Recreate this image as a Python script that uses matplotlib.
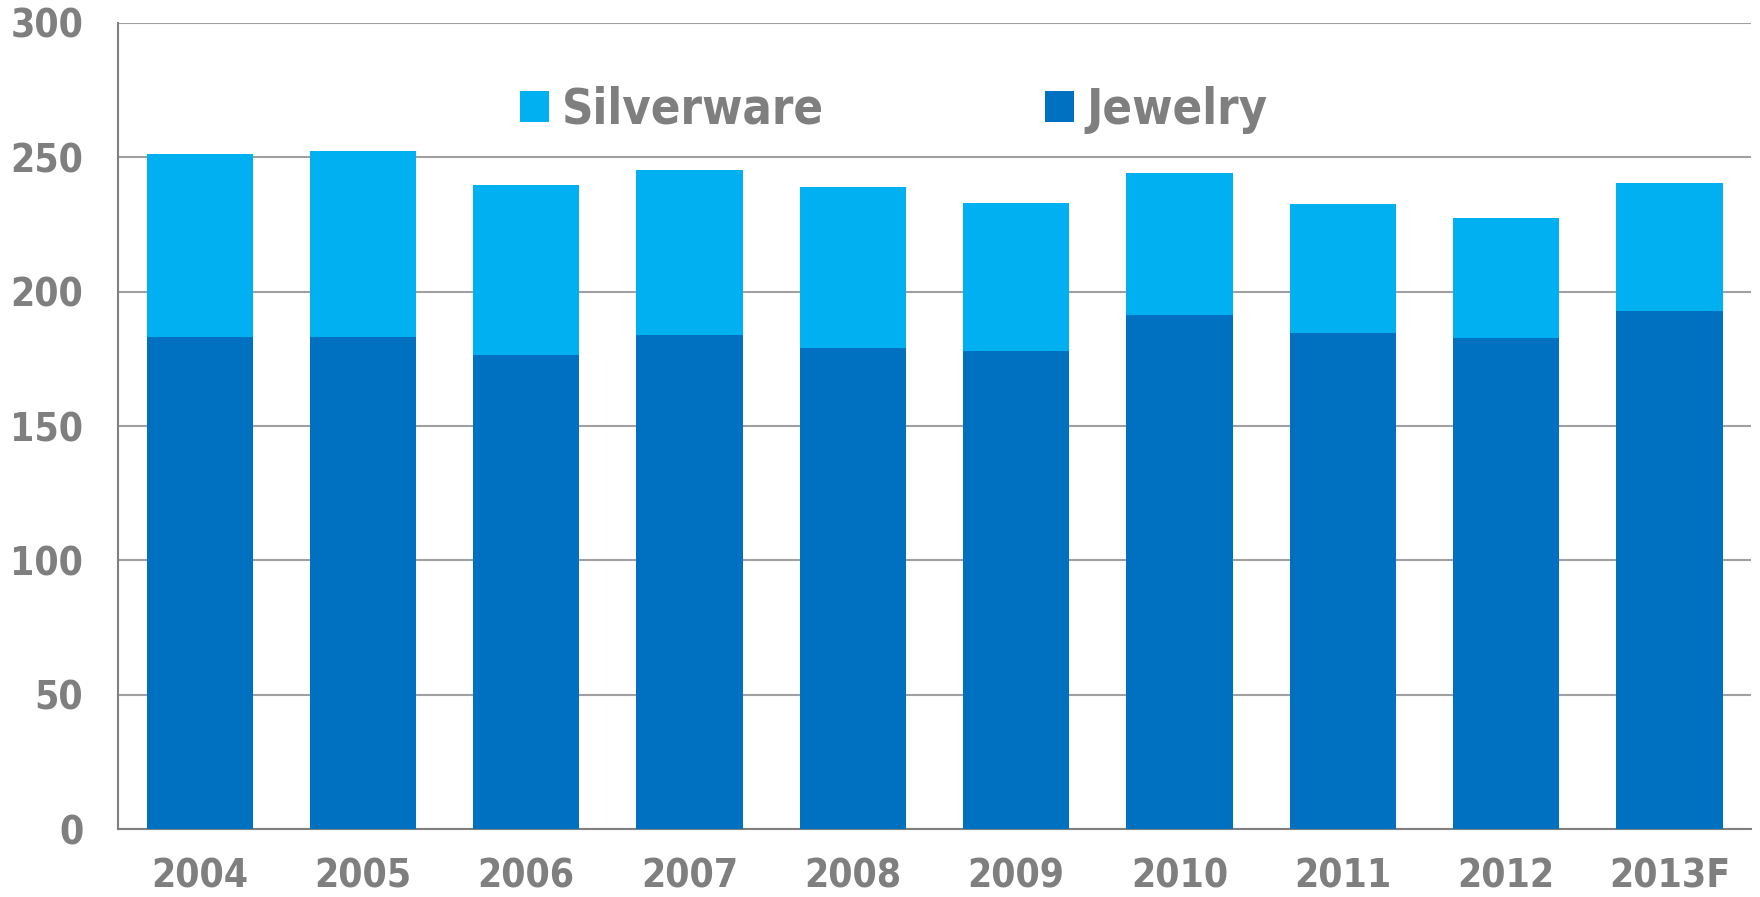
import matplotlib
matplotlib.use("Agg")
import matplotlib.pyplot as plt
from matplotlib.patches import Patch

years = ["2004", "2005", "2006", "2007", "2008", "2009", "2010", "2011", "2012", "2013F"]
jewelry = [183.1, 183.1, 176.3, 183.8, 179.0, 178.0, 191.5, 184.6, 182.7, 192.8]
silverware_total = [251.4, 252.5, 239.8, 245.3, 238.9, 233.1, 244.2, 232.8, 227.5, 240.5]
silverware = [t - j for t, j in zip(silverware_total, jewelry)]
y_ticks = [0, 50, 100, 150, 200, 250, 300]

COL_SILVER = "#00B0F0"
COL_JEWEL = "#0070C0"
TEXT = "#7F7F7F"
GRID = "#A0A0A0"

plt.rcParams["font.family"] = ["DejaVu Sans"]
fig = plt.figure(figsize=(17.6, 8.97), dpi=100)
ax = fig.add_axes([0.067, 0.0755, 0.928, 0.899])

x = range(len(years))
w = 0.65
ax.bar(x, jewelry, width=w, color=COL_JEWEL, zorder=3)
ax.bar(x, silverware, width=w, bottom=jewelry, color=COL_SILVER, zorder=3)

ax.set_xlim(-0.5, len(years) - 0.5)
ax.set_ylim(0, 300)
ax.set_yticks(y_ticks)
ax.set_xticks(list(x))
ax.set_xticklabels(years)
ax.yaxis.grid(True, color=GRID, linewidth=1.5, zorder=0)
ax.set_axisbelow(True)

for s in ["top", "right"]:
    ax.spines[s].set_visible(False)
for s in ["left", "bottom"]:
    ax.spines[s].set_color("#808080")
    ax.spines[s].set_linewidth(1.5)

ax.tick_params(axis="both", length=0, colors=TEXT)
ax.tick_params(axis="y", pad=25)
ax.tick_params(axis="x", pad=20)
for lbl in ax.get_xticklabels() + ax.get_yticklabels():
    lbl.set_fontsize(28)
    lbl.set_fontweight("bold")
    lbl.set_fontstretch("condensed")
    lbl.set_color(TEXT)

handles = [Patch(facecolor=COL_SILVER, label="Silverware"),
           Patch(facecolor=COL_JEWEL, label="Jewelry")]
leg = ax.legend(handles=handles, ncol=2, frameon=False, loc="center",
                bbox_to_anchor=(0.475, 0.892), handlelength=0.6, handleheight=0.6,
                handletextpad=0.25, columnspacing=4.55,
                prop={"size": 35, "weight": "bold", "stretch": "condensed"})
for t in leg.get_texts():
    t.set_color(TEXT)

fig.savefig("out.png", dpi=100)
